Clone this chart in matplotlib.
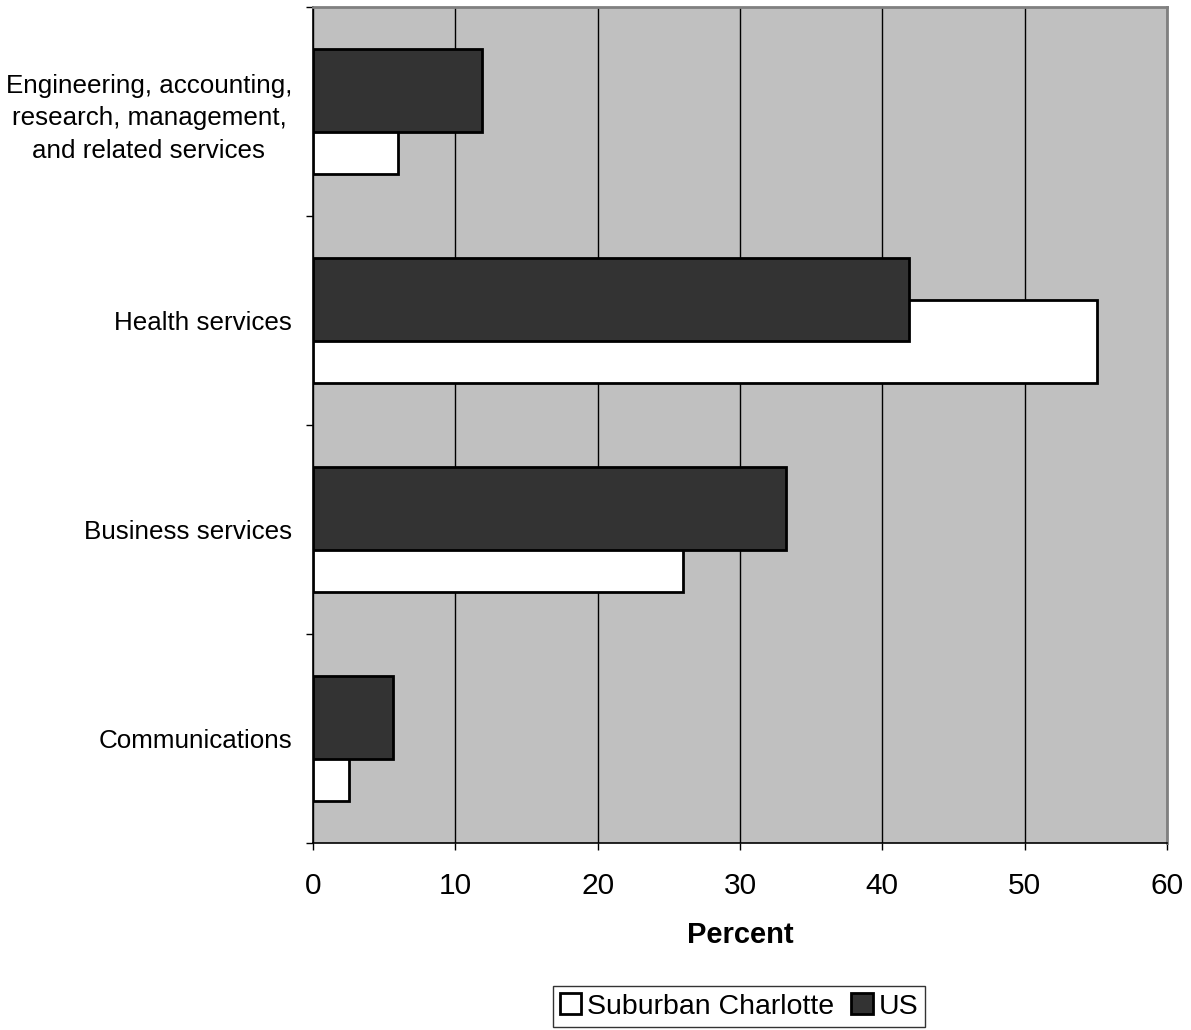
import matplotlib
matplotlib.use("Agg")
import matplotlib.pyplot as plt
import numpy as np

plt.rcParams["font.family"] = ["Liberation Sans", "DejaVu Sans"]

# top to bottom as in the picture
categories = [
    "Engineering, accounting,\nresearch, management,\nand related services",
    "Health services",
    "Business services",
    "Communications",
]
suburban = [6.0, 55.1, 26.0, 2.5]
us = [11.9, 41.9, 33.2, 5.6]
x_ticks = [0, 10, 20, 30, 40, 50, 60]

BG = "#c0c0c0"
DARK = "#333333"

fig = plt.figure(figsize=(11.91, 10.30), dpi=100)
ax = fig.add_axes([313 / 1191, 1 - 843 / 1030, (1167 - 313) / 1191, (843 - 7) / 1030])
ax.set_facecolor(BG)

n = len(categories)
ypos = np.arange(n)[::-1]  # Engineering at the top
h = 0.4
ax.barh(ypos - 0.1, suburban, height=h, color="white", edgecolor="black",
        linewidth=2.0, label="Suburban Charlotte", zorder=3)
ax.barh(ypos + 0.1, us, height=h, color=DARK, edgecolor="black",
        linewidth=2.0, label="US", zorder=4)

ax.set_xlim(0, 60)
ax.set_ylim(-0.5, n - 0.5)
ax.set_xticks(x_ticks)
ax.set_xticklabels([str(t) for t in x_ticks], fontsize=21.5)
ax.xaxis.grid(True, color="black", linewidth=1.0, zorder=1)
ax.set_axisbelow(True)
ax.tick_params(axis="x", direction="out", length=5, width=1, pad=16)

# category boundaries get tick marks, labels sit between them
ax.set_yticks(np.arange(-0.5, n, 1.0))
ax.set_yticklabels([])
ax.tick_params(axis="y", which="major", direction="out", length=5, width=1)
ax.set_yticks(ypos, minor=True)
ax.set_yticklabels(categories, minor=True, fontsize=18.7, ha="right",
                   multialignment="center", linespacing=1.45)
ax.tick_params(axis="y", which="minor", length=0, pad=15)

ax.set_xlabel("Percent", fontsize=21, fontweight="bold", labelpad=15)

for side in ("left", "bottom"):
    ax.spines[side].set_color("black")
    ax.spines[side].set_linewidth(1.2)
for side in ("top", "right"):
    ax.spines[side].set_color("#808080")
    ax.spines[side].set_linewidth(2.0)

leg = fig.legend(loc="center", bbox_to_anchor=(739 / 1191, 1 - 1006.5 / 1030),
                 ncol=2, fontsize=20.5, frameon=True, fancybox=False,
                 edgecolor="black", handlelength=0.75, handleheight=0.75,
                 handletextpad=0.2, columnspacing=0.6, borderpad=0.25,
                 borderaxespad=0)
leg.get_frame().set_linewidth(1.0)

fig.savefig("out.png", dpi=100)
